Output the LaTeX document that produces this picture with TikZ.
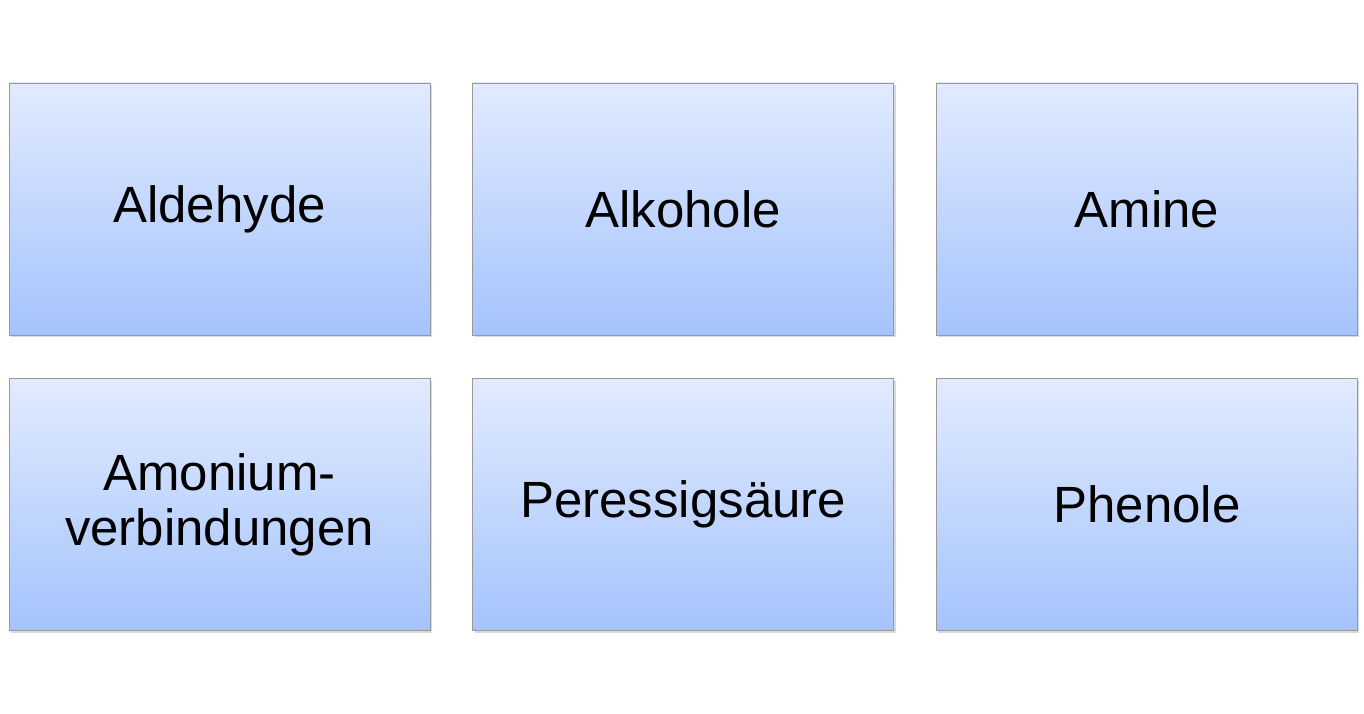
\documentclass[tikz,border=0pt]{standalone}
\usepackage{fontspec}
\setmainfont{Liberation Sans}
\usetikzlibrary{positioning,shadows}
\definecolor{boxtop}{HTML}{E1EBFE}
\definecolor{boxbot}{HTML}{A5C3FD}
\tikzset{
  groupbox/.style={draw=gray!80, top color=boxtop, bottom color=boxbot,
    minimum width=8.42cm, minimum height=5.04cm, align=center,
    font=\fontsize{29}{31}\selectfont, inner sep=0pt,
    drop shadow={shadow xshift=0.04cm, shadow yshift=-0.04cm, opacity=0.3}}
}
\begin{document}
\begin{tikzpicture}
	% Canvas
	\useasboundingbox (0,0) rectangle (27.28,14.26);
	
	% Upper row
	\node[groupbox] (ald) at (4.39,10.08) {Aldehyde};
	\node[groupbox, right=0.84cm of ald] (alk) {Alkohole};
	\node[groupbox, right=0.84cm of alk] (ami) {Amine};
	
	% Lower row
	\node[groupbox, below=0.86cm of ald] (amo) {Amonium-\\verbindungen};
	\node[groupbox, right=0.84cm of amo] (per) {Peressigsäure};
	\node[groupbox, right=0.84cm of per] (phe) {Phenole};
\end{tikzpicture}
\end{document}
